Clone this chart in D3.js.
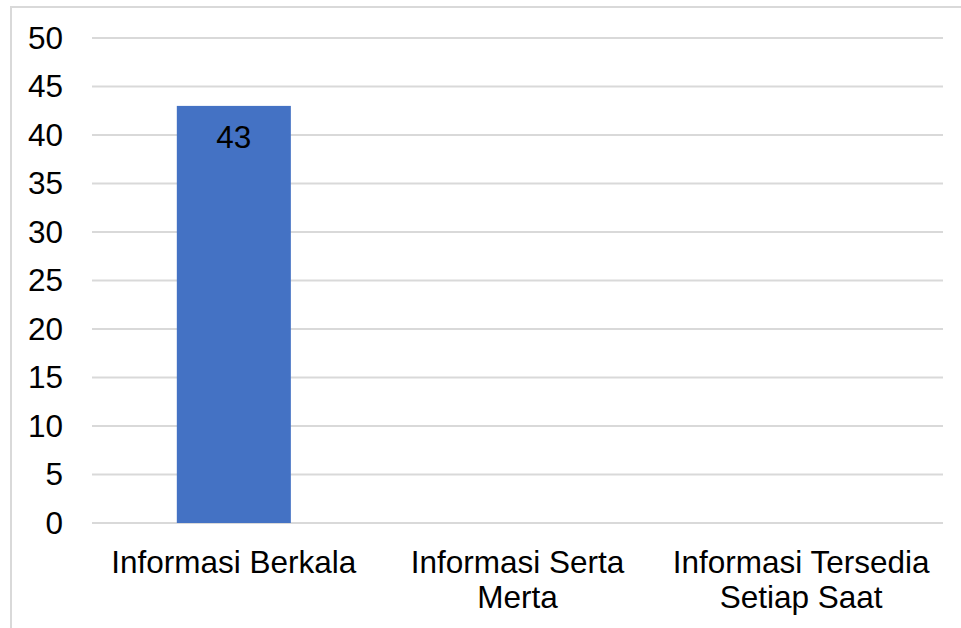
<!DOCTYPE html>
<html>
<head>
<meta charset="utf-8">
<script src="https://cdn.jsdelivr.net/npm/d3@7"></script>
<style>
  body { margin: 0; background: #fff; }
  text { font-family: "Liberation Sans", Arial, sans-serif; }
</style>
</head>
<body>
<div id="chart"></div>
<script>
var categories = ["Informasi Berkala", "Informasi Serta Merta", "Informasi Tersedia Setiap Saat"]
var values = [43, null, null]
var yTicks = [0, 5, 10, 15, 20, 25, 30, 35, 40, 45, 50]

var width = 961, height = 628
var margin = { top: 38, right: 18, bottom: 105, left: 92 }
var fontSize = 31.5

var svg = d3.select("#chart")
  .append("svg")
  .attr("width", width)
  .attr("height", height)

// outer chart frame (only top and left edges fall inside the picture)
svg.append("rect")
  .attr("x", 11)
  .attr("y", 7)
  .attr("width", width + 20)
  .attr("height", height + 20)
  .attr("fill", "none")
  .attr("stroke", "#d9d9d9")
  .attr("stroke-width", 2)

var x = d3.scaleBand()
  .domain(categories)
  .range([margin.left, width - margin.right])
  .paddingInner(0.598)
  .paddingOuter(0.299)

var y = d3.scaleLinear()
  .domain([0, 50])
  .range([height - margin.bottom, margin.top])

// gridlines
svg.append("g")
  .selectAll("line")
  .data(yTicks)
  .enter()
  .append("line")
  .attr("x1", margin.left)
  .attr("x2", width - margin.right)
  .attr("y1", function (d) { return y(d) })
  .attr("y2", function (d) { return y(d) })
  .attr("stroke", "#d9d9d9")
  .attr("stroke-width", 2)

// y axis labels
var yAxis = svg.append("g")
  .attr("transform", "translate(" + margin.left + ",0)")
  .call(d3.axisLeft(y).tickValues(yTicks).tickSize(0).tickPadding(29))
yAxis.select(".domain").remove()
yAxis.selectAll("text")
  .attr("font-size", fontSize)
  .attr("font-family", "Liberation Sans, Arial, sans-serif")
  .attr("fill", "#000")

// bars
var barData = categories.map(function (c, i) { return { cat: c, v: values[i] } })
  .filter(function (d) { return d.v != null })

svg.selectAll("rect.bar")
  .data(barData)
  .enter()
  .append("rect")
  .attr("class", "bar")
  .attr("x", function (d) { return x(d.cat) })
  .attr("y", function (d) { return y(d.v) })
  .attr("width", x.bandwidth())
  .attr("height", function (d) { return y(0) - y(d.v) })
  .attr("fill", "#4472c4")

// data labels
svg.selectAll("text.val")
  .data(barData)
  .enter()
  .append("text")
  .attr("class", "val")
  .attr("x", function (d) { return x(d.cat) + x.bandwidth() / 2 })
  .attr("y", function (d) { return y(d.v) + 42 })
  .attr("text-anchor", "middle")
  .attr("font-size", fontSize)
  .attr("fill", "#000")
  .text(function (d) { return d.v })

// x axis labels, wrapped to the band step
var xAxis = svg.append("g")
  .attr("transform", "translate(0," + y(0) + ")")
  .call(d3.axisBottom(x).tickSize(0).tickPadding(0))
xAxis.select(".domain").remove()
xAxis.selectAll("text")
  .attr("font-size", fontSize)
  .attr("font-family", "Liberation Sans, Arial, sans-serif")
  .attr("fill", "#000")
  .attr("dy", null)
  .attr("y", 50)
  .each(function () { wrap(d3.select(this), x.step() - 4) })

function wrap(text, maxW) {
  var words = text.text().split(" ")
  var lines = [], line = []
  text.text(null)
  var probe = text.append("tspan")
  words.forEach(function (w) {
    line.push(w)
    probe.text(line.join(" "))
    if (probe.node().getComputedTextLength() > maxW && line.length > 1) {
      line.pop()
      lines.push(line.join(" "))
      line = [w]
    }
  })
  lines.push(line.join(" "))
  probe.remove()
  lines.forEach(function (l, i) {
    text.append("tspan")
      .attr("x", 0)
      .attr("y", 50 + i * 35)
      .text(l)
  })
}
</script>
</body>
</html>
